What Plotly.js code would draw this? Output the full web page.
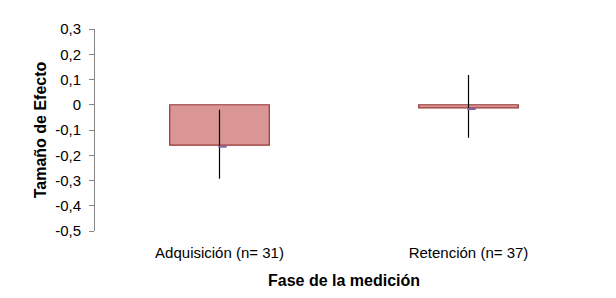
<!DOCTYPE html>
<html>
<head>
<meta charset="utf-8">
<script src="https://cdn.plot.ly/plotly-3.0.1.min.js"></script>
<style>html,body{margin:0;padding:0;background:#fff;}#chart{width:616px;height:298px;}</style>
</head>
<body>
<div id="chart"></div>
<script>
// Data
const categories = ['Adquisición (n= 31)', 'Retención (n= 37)'];
const effectSizes = [-0.16, -0.012];
const errorPlus = [0.14, 0.13];
const errorMinus = [0.133, 0.119];
const meanMarks = [-0.166, -0.017];
const yTickVals = [0.3, 0.2, 0.1, 0, -0.1, -0.2, -0.3, -0.4, -0.5];
const yTickText = ['0,3', '0,2', '0,1', '0', '-0,1', '-0,2', '-0,3', '-0,4', '-0,5'];
const xTitle = 'Fase de la medición';
const yTitle = 'Tamaño de Efecto';

const FONT = 'Liberation Sans, Arial, sans-serif';
const boundaries = categories.map((_, i) => i - 0.5).concat([categories.length - 0.5]);

const traces = [
  {
    type: 'bar',
    x: categories,
    y: effectSizes,
    width: 0.4,
    marker: {color: '#D99694', line: {color: '#953735', width: 1.2}},
    error_y: {type: 'data', symmetric: false, array: errorPlus, arrayminus: errorMinus,
              color: '#000000', thickness: 1.2, width: 0},
    hoverinfo: 'none'
  },
  {
    type: 'scatter',
    mode: 'markers',
    x: categories.map((_, i) => i),
    y: meanMarks,
    xaxis: 'x3',
    marker: {symbol: 'line-ew', size: 6, line: {color: '#8064A2', width: 2}},
    hoverinfo: 'none'
  }
];

const layout = {
  width: 616, height: 298,
  margin: {l: 95, r: 23, t: 29, b: 67},
  paper_bgcolor: '#ffffff', plot_bgcolor: '#ffffff',
  showlegend: false,
  font: {family: FONT, color: '#000000', size: 15},
  bargap: 0.6,
  xaxis: {
    type: 'category',
    range: [-0.5, 1.5],
    showline: false, showgrid: false, zeroline: false,
    ticks: '',
    tickfont: {family: FONT, size: 15, color: '#000'},
    ticklabelstandoff: 11,
    title: {text: xTitle, font: {family: FONT, size: 16, color: '#000', weight: 'bold'}, standoff: 14},
    automargin: false, fixedrange: true
  },
  xaxis2: {
    type: 'linear',
    overlaying: 'x',
    anchor: 'free',
    position: 0.625,
    range: [-0.5, 1.5],
    tickvals: boundaries,
    showticklabels: false,
    showline: true, linecolor: '#868686', linewidth: 1,
    ticks: 'outside', ticklen: 5, tickcolor: '#868686', tickwidth: 1,
    showgrid: false, zeroline: false, fixedrange: true,
    layer: 'above traces'
  },
  xaxis3: {
    type: 'linear',
    overlaying: 'x',
    range: [-0.512, 1.488],
    visible: false, fixedrange: true
  },
  yaxis: {
    range: [-0.5, 0.3],
    tickvals: yTickVals,
    ticktext: yTickText,
    showline: true, linecolor: '#868686', linewidth: 1,
    ticks: 'outside', ticklen: 5, tickcolor: '#868686', tickwidth: 1,
    showgrid: false, zeroline: false,
    ticklabelstandoff: 5,
    tickfont: {family: FONT, size: 15, color: '#000'},
    title: {text: yTitle, font: {family: FONT, size: 16, color: '#000', weight: 'bold'}, standoff: 4},
    automargin: false, fixedrange: true
  }
};

Plotly.newPlot('chart', traces, layout, {staticPlot: true, displayModeBar: false});
</script>
</body>
</html>
